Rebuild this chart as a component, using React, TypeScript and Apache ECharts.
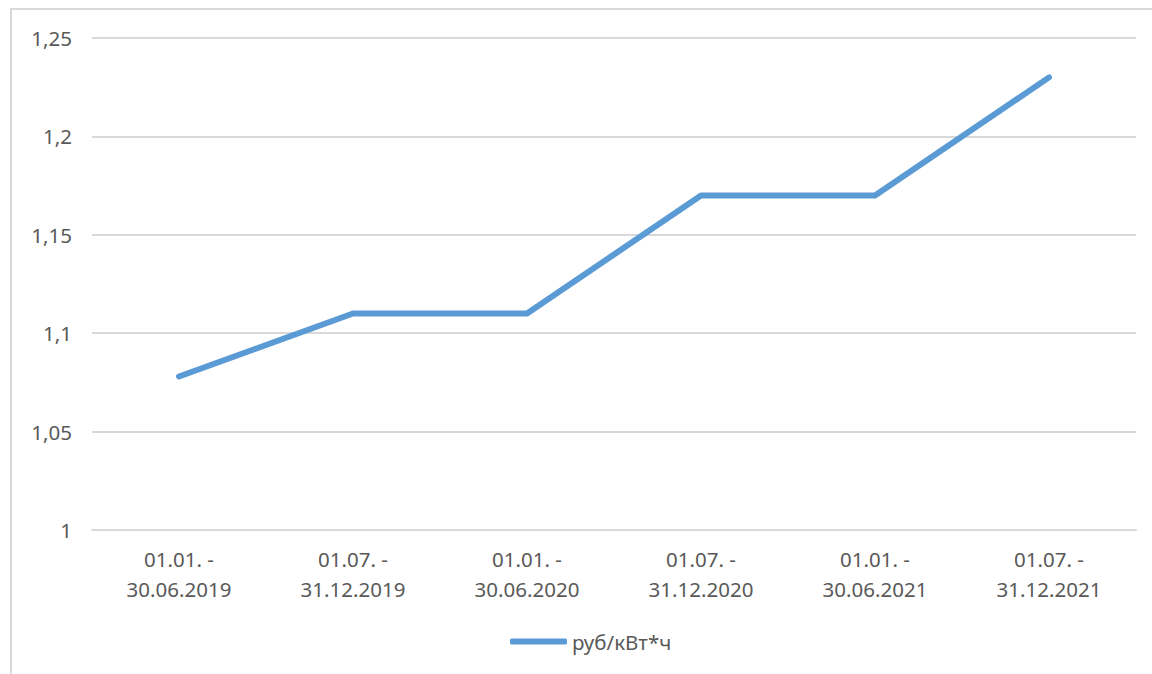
import React, { useEffect, useRef } from "react";
import * as echarts from "echarts";

const categories = [
  "01.01. -\n30.06.2019",
  "01.07. -\n31.12.2019",
  "01.01. -\n30.06.2020",
  "01.07. -\n31.12.2020",
  "01.01. -\n30.06.2021",
  "01.07. -\n31.12.2021",
];
const values = [1.078, 1.11, 1.11, 1.17, 1.17, 1.23];
const seriesName = "руб/кВт*ч";

const FONT = "'Noto Sans', 'DejaVu Sans', sans-serif";
const TEXT = "#595959";

export default function App() {
  const ref = useRef<HTMLDivElement>(null);
  useEffect(() => {
    if (!ref.current) return;
    const chart = echarts.init(ref.current, undefined, { renderer: "svg" });
    chart.setOption({
      animation: false,
      backgroundColor: "#ffffff",
      graphic: [
        {
          type: "rect",
          shape: { x: 11, y: 9, width: 1300, height: 800 },
          style: { fill: "none", stroke: "#d9d9d9", lineWidth: 2 },
          silent: true,
        },
      ],
      grid: { left: 92, right: 16, top: 38, bottom: 144, containLabel: false },
      xAxis: {
        type: "category",
        data: categories,
        boundaryGap: true,
        axisLine: { show: true, lineStyle: { color: "#d9d9d9", width: 2 } },
        axisTick: { show: false },
        axisLabel: {
          color: TEXT,
          fontFamily: FONT,
          fontSize: 20.5,
          lineHeight: 30,
          margin: 14,
        },
      },
      yAxis: {
        type: "value",
        min: 1,
        max: 1.25,
        interval: 0.05,
        axisLine: { show: false },
        axisTick: { show: false },
        splitLine: { lineStyle: { color: "#d9d9d9", width: 2 } },
        axisLabel: {
          color: TEXT,
          fontFamily: FONT,
          fontSize: 20.5,
          margin: 20,
          formatter: (v: number) =>
            String(Math.round(v * 100) / 100).replace(".", ","),
        },
      },
      legend: {
        data: [seriesName],
        bottom: 22,
        left: 510,
        padding: 0,
        icon: "roundRect",
        itemWidth: 57,
        itemHeight: 6,
        itemGap: 4,
        textStyle: { color: TEXT, fontFamily: FONT, fontSize: 20.5 },
      },
      series: [
        {
          name: seriesName,
          type: "line",
          data: values,
          symbol: "none",
          lineStyle: { color: "#5b9bd5", width: 6, cap: "round", join: "round" },
          itemStyle: { color: "#5b9bd5" },
        },
      ],
    });
    return () => chart.dispose();
  }, []);
  return (
    <div style={{ position: "fixed", left: 0, top: 0, width: 1152, height: 674 }}>
      <div ref={ref} style={{ width: 1152, height: 674 }} />
    </div>
  );
}
